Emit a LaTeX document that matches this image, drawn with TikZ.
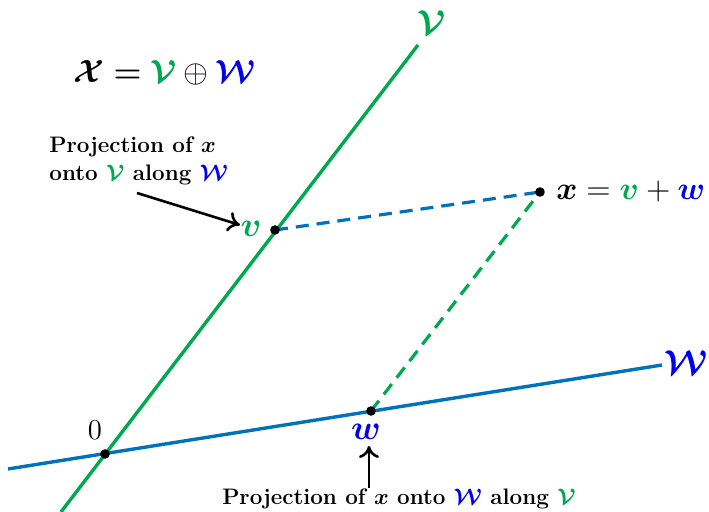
\RequirePackage{fix-cm}
\documentclass[tikz,border=0pt]{standalone}
\usepackage{amsmath,amssymb,bm}
\usetikzlibrary{arrows.meta}
\definecolor{mygreen}{RGB}{0,168,80}
\definecolor{lineblue}{RGB}{0,114,189}
\definecolor{labblue}{RGB}{0,0,235}
\tikzset{
  subline/.style={line width=1.7pt},
  dashline/.style={line width=1.6pt, dash pattern=on 6.5pt off 4pt},
  dot/.style={circle, fill=black, inner sep=0pt, minimum size=4.8pt},
  lab/.style={font=\LARGE, inner sep=1pt},
  note/.style={font=\fontsize{11.2}{14}\selectfont\bfseries, align=left, inner sep=0pt},
  pointer/.style={line width=1.3pt, -{To[length=6pt,width=10pt,line width=1.3pt]}}
}
\newcommand{\cV}{\textcolor{mygreen}{\bm{\mathcal{V}}}}
\newcommand{\cW}{\textcolor{labblue}{\bm{\mathcal{W}}}}
\begin{document}
\begin{tikzpicture}[x=0.5pt,y=-0.5pt]
\useasboundingbox (0,0) rectangle (709,512);
% coordinates
\coordinate (O) at (105,454);
\coordinate (Vb) at (61,512);
\coordinate (Vt) at (418,45);
\coordinate (Wl) at (8,469);
\coordinate (Wr) at (662,365);
\coordinate (vp) at (275,230);
\coordinate (wp) at (371,411);
\coordinate (xp) at (540,192);
% lines
\draw[subline, mygreen] (Vb) -- (Vt);
\draw[subline, lineblue] (Wl) -- (Wr);
\draw[dashline, lineblue] (vp) -- (xp);
\draw[dashline, mygreen] (wp) -- (xp);
% dots
\node[dot] (o) at (O) {};
\node[dot] (v) at (vp) {};
\node[dot] (w) at (wp) {};
\node[dot] (x) at (xp) {};
% labels
\node[font=\Large, inner sep=1pt] (zero) at (95,430) {$0$};
\node[lab] (Vlab) at (432,23) {$\cV$};
\node[lab] (Wlab) at (686,363) {$\cW$};
\node[lab, anchor=east] (vlab) at (264,229) {$\textcolor{mygreen}{\bm{v}}$};
\node[lab] (wlab) at (366,432) {$\textcolor{labblue}{\bm{w}}$};
\node[font=\fontsize{16}{19}\selectfont, inner sep=1pt, anchor=west] (xlab) at (554,192) {$\bm{x}=\textcolor{mygreen}{\bm{v}}+\textcolor{labblue}{\bm{w}}$};
\node[font=\fontsize{16}{19}\selectfont] (title) at (165,73) {$\bm{\mathcal{X}}\bm{=}\cV\oplus\cW$};
% notes
\node[note, anchor=north west] (n1) at (49,136) {Projection of $\bm{x}$\\onto $\cV$ along $\cW$};
\coordinate (a1s) at (137,193);
\coordinate (a1e) at (240,225);
\draw[pointer] (a1s) -- (a1e);
\node[note] (n2) at (399,499) {Projection of $\bm{x}$ onto $\cW$ along $\cV$};
\coordinate (a2s) at (369,488);
\coordinate (a2e) at (369,446);
\draw[pointer] (a2s) -- (a2e);
\end{tikzpicture}
\end{document}
